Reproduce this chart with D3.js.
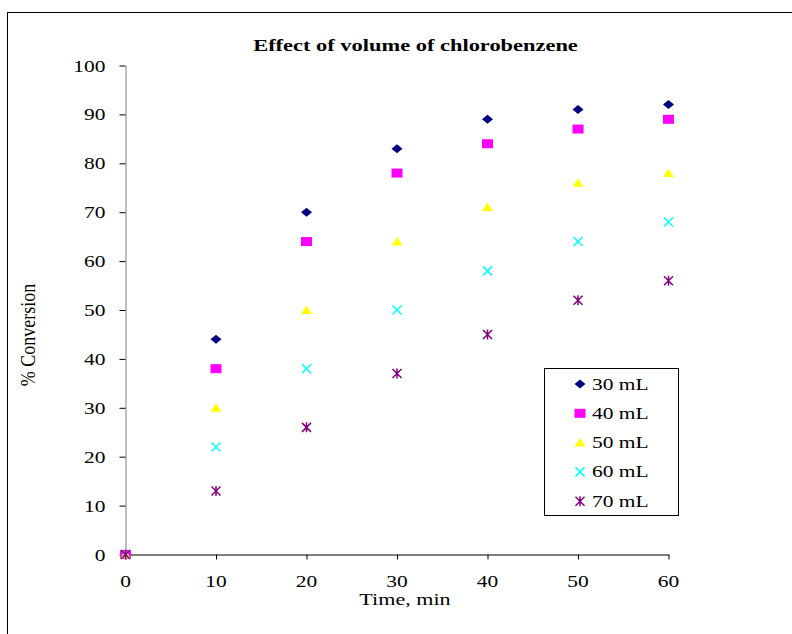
<!DOCTYPE html>
<html>
<head>
<meta charset="utf-8">
<script src="https://cdn.jsdelivr.net/npm/d3@7"></script>
<style>
  html, body { margin: 0; padding: 0; background: #fff; }
  svg { display: block; }
  text { font-family: "Liberation Serif", "Times New Roman", serif; fill: #000; }
</style>
</head>
<body>
<svg id="chart" width="792" height="634"></svg>
<script>
// Reaction time (min) and % conversion for each volume of chlorobenzene
const times = [0, 10, 20, 30, 40, 50, 60];
const seriesNames = ["30 mL", "40 mL", "50 mL", "60 mL", "70 mL"];
const conv30 = [0, 44, 70, 83, 89, 91, 92];
const conv40 = [0, 38, 64, 78, 84, 87, 89];
const conv50 = [0, 30, 50, 64, 71, 76, 78];
const conv60 = [0, 22, 38, 50, 58, 64, 68];
const conv70 = [0, 13, 26, 37, 45, 52, 56];
const xTicks = [0, 10, 20, 30, 40, 50, 60];
const yTicks = [0, 10, 20, 30, 40, 50, 60, 70, 80, 90, 100];

const seriesValues = [conv30, conv40, conv50, conv60, conv70];
const colors = ["#000080", "#ff00ff", "#ffff00", "#00ffff", "#800080"];
const shapes = ["diamond", "square", "triangle", "cross", "star"];

// text in this chart is drawn wide (horizontally stretched serif)
const SX = 1.3;

const svg = d3.select("#chart");

function label(px, py, str, size, anchor, opts = {}) {
  const t = svg.append("text")
    .attr("transform", `translate(${px},${py}) scale(${opts.sx || SX},1)` + (opts.rotate ? ` rotate(${opts.rotate})` : ""))
    .attr("text-anchor", anchor)
    .style("font-size", size + "px")
    .text(str);
  if (opts.bold) t.style("font-weight", "bold");
  return t;
}

// outer chart frame
svg.append("rect")
  .attr("x", 7.5).attr("y", 12.5)
  .attr("width", 800).attr("height", 640)
  .attr("fill", "none").attr("stroke", "#000").attr("stroke-width", 1);

const x = d3.scaleLinear().domain([0, 60]).range([125.5, 668.5]);
const y = d3.scaleLinear().domain([0, 100]).range([554.5, 65.5]);

// axes (lines and ticks from d3, labels drawn below)
const xAxis = svg.append("g").attr("transform", `translate(0,${y(0)})`)
  .call(d3.axisBottom(x).tickValues(xTicks).tickSize(5).tickFormat("").tickSizeOuter(0));
xAxis.select(".domain").attr("stroke", "#000");
xAxis.selectAll(".tick line").attr("stroke", "#000");

const yAxis = svg.append("g").attr("transform", `translate(${x(0)},0)`)
  .call(d3.axisLeft(y).tickValues(yTicks).tickSize(6).tickFormat("").tickSizeOuter(0));
yAxis.select(".domain").attr("stroke", "#808080");
yAxis.selectAll(".tick line").attr("stroke", "#000");

xTicks.forEach(v => label(x(v), y(0) + 32, String(v), 16.5, "middle"));
yTicks.forEach(v => label(x(0) - 20, y(v) + 6, String(v), 16.5, "end"));

// titles
label(415.5, 51, "Effect of volume of chlorobenzene", 17, "middle", { bold: true, sx: 1.32 });
label(405, 604.5, "Time, min", 17, "middle");
label(35, 335, "% Conversion", 18, "middle", { sx: 1.15, rotate: -90 });

// marker drawing
function drawMarker(g, shape, color) {
  if (shape === "diamond") {
    g.append("path").attr("d", "M-5.5,0L0,-4.5L5.5,0L0,4.5Z").attr("fill", color);
  } else if (shape === "square") {
    g.append("rect").attr("x", -5.5).attr("y", -4.5).attr("width", 11).attr("height", 9).attr("fill", color);
  } else if (shape === "triangle") {
    g.append("path").attr("d", "M-5.5,4L0,-4.5L5.5,4Z").attr("fill", color);
  } else if (shape === "cross") {
    g.append("path").attr("d", "M-4.5,-4.5L4.5,4.5M-4.5,4.5L4.5,-4.5")
      .attr("stroke", color).attr("stroke-width", 1.5).attr("fill", "none");
  } else if (shape === "star") {
    g.append("path").attr("d", "M-4.5,-4.5L4.5,4.5M-4.5,4.5L4.5,-4.5M0,-5L0,5")
      .attr("stroke", color).attr("stroke-width", 1.5).attr("fill", "none");
  }
}

// data points
seriesValues.forEach((vals, i) => {
  const grp = svg.append("g").attr("class", "series");
  vals.forEach((v, j) => {
    const m = grp.append("g").attr("transform", `translate(${x(times[j])},${y(v)})`);
    drawMarker(m, shapes[i], colors[i]);
  });
});

// legend
svg.append("rect")
  .attr("x", 544.5).attr("y", 368.5)
  .attr("width", 134).attr("height", 147)
  .attr("fill", "#fff").attr("stroke", "#000").attr("stroke-width", 1);

seriesNames.forEach((name, i) => {
  const ly = 384 + i * 29.3;
  const m = svg.append("g").attr("transform", `translate(580,${ly})`);
  drawMarker(m, shapes[i], colors[i]);
  label(592, ly + 5.5, name, 16.5, "start");
});
</script>
</body>
</html>
